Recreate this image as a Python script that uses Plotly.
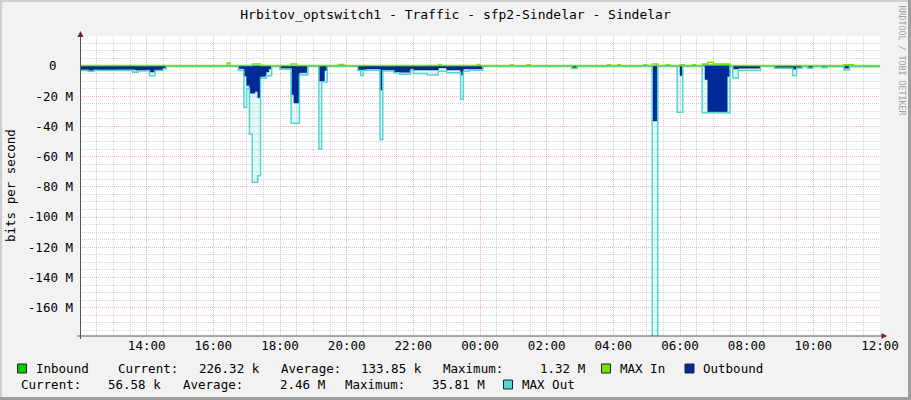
import plotly.graph_objects as go

# ---------------- data (minutes after 12:00 start, values in Mbit/s) ----------------
TIME_TICKS = [120, 240, 360, 480, 600, 720, 840, 960, 1080, 1200, 1320, 1440]
TIME_LABELS = ["14:00", "16:00", "18:00", "20:00", "22:00", "00:00",
               "02:00", "04:00", "06:00", "08:00", "10:00", "12:00"]
Y_TICKS = [0, -20, -40, -60, -80, -100, -120, -140, -160]
Y_LABELS = ["", "-20 M", "-40 M", "-60 M", "-80 M",
            "-100 M", "-120 M", "-140 M", "-160 M"]
ZERO_LABEL = "0"

# Inbound (average) - step values starting at each time
IN_T = [0, 155, 265, 270, 285, 345, 1120, 1170, 1375, 1390]
IN_V = [0.15, 0.1, 0.5, 0.1, 0.3, 0.1, 0.8, 0.1, 0.3, 0.1]

# MAX In
MAXIN_T = [0, 265, 270, 310, 325, 380, 390, 465, 475, 645, 650, 715, 720,
           775, 780, 805, 810, 950, 955, 968, 973, 1015, 1020, 1030, 1040,
           1055, 1062, 1080, 1088, 1102, 1108, 1120, 1130, 1140, 1170, 1375, 1392]
MAXIN_V = [0.3, 2.0, 0.3, 1.3, 0.3, 1.3, 0.3, 1.0, 0.3, 1.0, 0.3, 1.0, 0.3,
           0.8, 0.3, 0.8, 0.3, 0.8, 0.3, 0.8, 0.3, 0.8, 0.3, 1.3, 0.3,
           0.8, 0.3, 0.8, 0.3, 0.8, 0.3, 1.3, 2.4, 1.3, 0.3, 0.8, 0.3]

# Outbound (average), drawn below zero
OUT_T = [0, 15, 25, 60, 100, 120, 125, 135, 150, 155,
         285, 295, 300, 305, 315, 320, 325, 335, 340, 345,
         360, 380, 385, 395, 410,
         430, 440, 445,
         500, 505, 515, 540, 545, 565, 595, 600, 645, 660, 685, 690, 725,
         885, 895,
         1030, 1040, 1080, 1085,
         1125, 1130, 1165, 1170, 1175, 1185, 1225,
         1250, 1283, 1290, 1300, 1310, 1320, 1375, 1385]
OUT_V = [2.6, 3.4, 2.6, 2.4, 2.8, 2.5, 4.0, 2.8, 1.5, 0.1,
         1.8, 6.7, 13, 18, 17, 21, 7, 4, 2, 0.3,
         1.5, 19, 24.5, 4.5, 0.3,
         10, 3, 0.2,
         2.5, 2.7, 2.0, 16, 2.7, 4.2, 1.8, 2.7, 1.3, 2.7, 6, 2.0, 0.1,
         1.0, 0.1,
         36.4, 0.1, 6.4, 0.1,
         9, 30.4, 7, 0.2, 2.0, 1.5, 0.2,
         1.2, 2.2, 1.0, 0.3, 1.2, 0.3, 1.5, 0.3]

# MAX Out, drawn below zero
MAXOUT_T = [0, 15, 25, 95, 105, 125, 135, 150, 155,
            285, 295, 300, 305, 310, 320, 325, 335, 345,
            360, 380, 395, 410,
            430, 435, 445,
            500, 505, 510, 540, 545, 565, 575, 595, 600, 625, 645, 660, 685, 690, 700, 725,
            885, 895,
            1030, 1040, 1075, 1085,
            1120, 1170, 1175, 1185, 1225,
            1250, 1283, 1290, 1300, 1310, 1320, 1335, 1345, 1375, 1385]
MAXOUT_V = [3.0, 3.6, 3.0, 4.2, 3.3, 6.5, 3.0, 1.8, 0.3,
            3.0, 27.5, 15, 45, 77, 72.6, 8.2, 6.5, 0.4,
            2.2, 38, 6, 0.4,
            55, 10.6, 0.4,
            3.0, 6.4, 2.8, 48.7, 3.3, 4.5, 5.5, 2.8, 5.0, 6.0, 3.5, 4.5, 22, 3.5, 2.8, 0.3,
            1.7, 0.3,
            200, 0.3, 30.6, 0.3,
            31, 0.5, 8, 3, 0.3,
            1.5, 6.4, 1.5, 0.6, 1.5, 0.6, 1.2, 0.6, 2.7, 0.6]

LEGEND_ROW1 = [("Inbound", 33.5), ("Current:", 116), ("226.32 k", 196.5),
               ("Average:", 279), ("133.85 k", 359), ("Maximum:", 440.7),
               ("1.32 M", 537.8), ("MAX In", 618), ("Outbound", 701)]
LEGEND_ROW2 = [("Current:", 18.6), ("56.58 k", 106.4), ("Average:", 181.4),
               ("2.46 M", 278), ("Maximum:", 343), ("35.81 M", 430),
               ("MAX Out", 520)]

C_IN = "#00CC00"
C_MAXIN = "#7FE000"
C_OUT = "#002A97"
C_MAXOUT = "#55D6D3"

# ---------------- geometry helpers (pixel -> paper) ----------------
W, H = 911, 400
L, R, T, B = 80, 31, 36, 64
PW, PH = W - L - R, H - T - B


def px(x):
    return (x - L) / PW


def py(y):
    return (H - B - y) / PH


def steps(t, v, neg=False):
    tt = list(t) + [1440]
    vv = list(v) + [v[-1]]
    if neg:
        vv = [-a for a in vv]
    return tt, vv


FONT = "DejaVu Sans Mono"
fig = go.Figure()

t, v = steps(MAXOUT_T, MAXOUT_V, True)
fig.add_trace(go.Scatter(x=t, y=v, mode="lines", line_shape="hv",
                         line=dict(width=0, color=C_MAXOUT), fill="tozeroy",
                         fillcolor="rgba(85,214,211,0.17)", hoverinfo="skip"))
t, v = steps(OUT_T, OUT_V, True)
fig.add_trace(go.Scatter(x=t, y=v, mode="lines", line_shape="hv",
                         line=dict(width=0.5, color=C_OUT), fill="tozeroy",
                         fillcolor=C_OUT, name="Outbound"))
t, v = steps(MAXOUT_T, MAXOUT_V, True)
fig.add_trace(go.Scatter(x=t, y=v, mode="lines", line_shape="hv",
                         line=dict(width=1.5, color=C_MAXOUT), name="MAX Out"))
t, v = steps(IN_T, IN_V)
fig.add_trace(go.Scatter(x=t, y=v, mode="lines", line_shape="hv",
                         line=dict(width=0.5, color=C_IN), fill="tozeroy",
                         fillcolor=C_IN, name="Inbound"))
t, v = steps(MAXIN_T, MAXIN_V)
fig.add_trace(go.Scatter(x=t, y=v, mode="lines", line_shape="hv",
                         line=dict(width=1.5, color=C_MAXIN), name="MAX In"))

GRID = "rgba(143,143,143,0.38)"
MGRID = "rgba(222,79,79,0.42)"

fig.update_xaxes(range=[0, 1440], tickmode="array", tickvals=TIME_TICKS,
                 ticktext=TIME_LABELS, showgrid=True, gridcolor=MGRID,
                 griddash="1px,1px", gridwidth=1, zeroline=False, showline=False,
                 ticks="", automargin=False,
                 tickfont=dict(family=FONT, size=12.5, color="#000"),
                 minor=dict(tickmode="array",
                            tickvals=[m for m in range(30, 1440, 30) if m % 120],
                            showgrid=True, gridcolor=GRID, griddash="1px,1px",
                            gridwidth=1, ticks=""),
                 fixedrange=True)
fig.update_yaxes(range=[-178.7, 19.8], tickmode="array", tickvals=Y_TICKS,
                 ticktext=Y_LABELS, showgrid=True, gridcolor=MGRID,
                 griddash="1px,1px", gridwidth=1, zeroline=False, showline=False,
                 ticks="", ticklabelstandoff=6, automargin=False,
                 tickfont=dict(family=FONT, size=12.5, color="#000"),
                 minor=dict(tickmode="array",
                            tickvals=[m for m in range(-175, 20, 5) if m % 20],
                            showgrid=True, gridcolor=GRID, griddash="1px,1px",
                            gridwidth=1, ticks=""),
                 fixedrange=True)

shapes = []
# frame shading
shapes.append(dict(type="rect", xref="paper", yref="paper", x0=px(0), x1=px(2),
                   y0=py(H), y1=py(0), fillcolor="#CFCFCF", line_width=0, layer="above"))
shapes.append(dict(type="rect", xref="paper", yref="paper", x0=px(0), x1=px(W),
                   y0=py(2), y1=py(0), fillcolor="#CFCFCF", line_width=0, layer="above"))
shapes.append(dict(type="rect", xref="paper", yref="paper", x0=px(W - 3), x1=px(W),
                   y0=py(H), y1=py(0), fillcolor="#9E9E9E", line_width=0, layer="above"))
shapes.append(dict(type="rect", xref="paper", yref="paper", x0=px(0), x1=px(W),
                   y0=py(H), y1=py(H - 3), fillcolor="#9E9E9E", line_width=0, layer="above"))
# axes
shapes.append(dict(type="line", xref="paper", yref="paper", x0=px(77), x1=px(883),
                   y0=py(336), y1=py(336), line=dict(color="#555555", width=1), layer="above"))
shapes.append(dict(type="line", xref="paper", yref="paper", x0=px(80.5), x1=px(80.5),
                   y0=py(339), y1=py(34), line=dict(color="#555555", width=1), layer="above"))
# arrows
shapes.append(dict(type="path", xref="paper", yref="paper",
                   path=f"M {px(80.5)} {py(31)} L {px(77.5)} {py(37)} L {px(83.5)} {py(37)} Z",
                   fillcolor="#7F1F1F", line_width=0, layer="above"))
shapes.append(dict(type="path", xref="paper", yref="paper",
                   path=f"M {px(887)} {py(336)} L {px(881.5)} {py(333)} L {px(881.5)} {py(339)} Z",
                   fillcolor="#7F1F1F", line_width=0, layer="above"))
# legend swatches
for (x0, x1, y0, col) in [(17.5, 26.5, 364, C_IN), (601.5, 610.5, 364, C_MAXIN),
                          (685, 694, 364, C_OUT), (503.5, 512.5, 380, C_MAXOUT)]:
    shapes.append(dict(type="rect", xref="paper", yref="paper", x0=px(x0), x1=px(x1),
                       y0=py(y0 + 9), y1=py(y0), fillcolor=col,
                       line=dict(color="#222222", width=1), layer="above"))

annotations = []
# "0" tick label sits aligned with the digits column of the other labels
annotations.append(dict(text=ZERO_LABEL, x=px(52.5), y=Y_TICKS[0], xref="paper", yref="y",
                        xanchor="center", yanchor="middle", showarrow=False,
                        font=dict(family=FONT, size=12.5, color="#000")))
for txt, x in LEGEND_ROW1:
    annotations.append(dict(text=txt, x=px(x), y=py(368.5), xref="paper", yref="paper",
                            xanchor="left", yanchor="middle", showarrow=False,
                            font=dict(family=FONT, size=12.5, color="#000")))
for txt, x in LEGEND_ROW2:
    annotations.append(dict(text=txt, x=px(x), y=py(384.5), xref="paper", yref="paper",
                            xanchor="left", yanchor="middle", showarrow=False,
                            font=dict(family=FONT, size=12.5, color="#000")))
annotations.append(dict(text="bits per second", x=px(10), y=py(186), xref="paper",
                        yref="paper", xanchor="center", yanchor="middle", showarrow=False,
                        textangle=-90, font=dict(family=FONT, size=12.5, color="#000")))
annotations.append(dict(text="RRDTOOL / TOBI OETIKER", x=px(901.5), y=py(60), xref="paper",
                        yref="paper", xanchor="center", yanchor="middle", showarrow=False,
                        textangle=90, font=dict(family=FONT, size=8.3, color="#A0A0A0")))

fig.update_layout(
    width=W, height=H, margin=dict(l=L, r=R, t=T, b=B, autoexpand=False),
    paper_bgcolor="#F2F2F2", plot_bgcolor="#FFFFFF", showlegend=False,
    title=dict(text="Hrbitov_optswitch1 - Traffic - sfp2-Sindelar - Sindelar",
               x=0.5, xref="container", xanchor="center",
               y=1 - 14 / H, yref="container", yanchor="middle",
               font=dict(family=FONT, size=13, color="#000")),
    shapes=shapes, annotations=annotations,
)

fig.write_html("out.html", config={"displayModeBar": False},
               post_script="document.body.style.margin='0';document.body.style.padding='0';")
